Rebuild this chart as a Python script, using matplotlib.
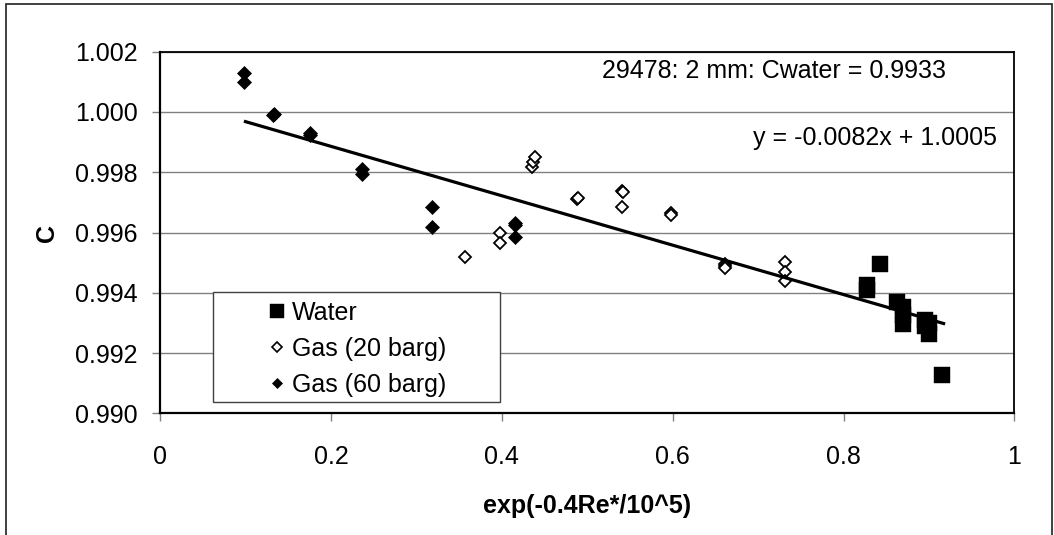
import matplotlib
matplotlib.use("Agg")
import matplotlib.pyplot as plt
from matplotlib.lines import Line2D
from matplotlib.patches import Rectangle

plt.rcParams['font.family'] = ['Liberation Sans', 'DejaVu Sans']

# ---- data ----
water_x = [0.827, 0.827, 0.843, 0.862, 0.870, 0.870, 0.870, 0.895, 0.895, 0.900, 0.900, 0.915]
water_y = [0.99425, 0.99408, 0.99497, 0.99369, 0.99353, 0.99325, 0.99298, 0.99311, 0.99289, 0.99300, 0.99264, 0.99128]

gas20_x = [0.3575, 0.398, 0.398, 0.435, 0.437, 0.439, 0.488, 0.489, 0.541, 0.542, 0.541,
           0.598, 0.598, 0.661, 0.661, 0.661, 0.732, 0.732, 0.732]
gas20_y = [0.99519, 0.99600, 0.99565, 0.99819, 0.99833, 0.99849, 0.99712, 0.99716, 0.99738, 0.99733, 0.99683,
           0.99666, 0.99659, 0.99497, 0.99490, 0.99482, 0.99501, 0.99468, 0.99438]

gas60_x = [0.098, 0.098, 0.132, 0.133, 0.175, 0.176, 0.236, 0.236, 0.318, 0.318, 0.416, 0.416, 0.416]
gas60_y = [1.00128, 1.00098, 0.99989, 0.99992, 0.99925, 0.99930, 0.99811, 0.99793, 0.99683, 0.99617,
           0.99633, 0.99625, 0.99586]

trend_x = [0.100, 0.917]
trend_y = [0.99968, 0.99298]

series_labels = ['Water', 'Gas (20 barg)', 'Gas (60 barg)']
x_ticks = [0, 0.2, 0.4, 0.6, 0.8, 1]
x_tick_labels = ['0', '0.2', '0.4', '0.6', '0.8', '1']
y_ticks = [0.990, 0.992, 0.994, 0.996, 0.998, 1.000, 1.002]
y_tick_labels = ['0.990', '0.992', '0.994', '0.996', '0.998', '1.000', '1.002']
note_text = '29478: 2 mm: Cwater = 0.9933'
eq_text = 'y = -0.0082x + 1.0005'
x_label = 'exp(-0.4Re*/10^5)'
y_label = 'C'

W, H = 1054, 535
fig = plt.figure(figsize=(W / 100, H / 100), dpi=100)
ax = fig.add_axes([160 / W, 1 - 413.3 / H, (1014.5 - 160) / W, (413.3 - 51.7) / H])

ax.set_xlim(0, 1)
ax.set_ylim(0.990, 1.002)
ax.set_xticks(x_ticks)
ax.set_xticklabels(x_tick_labels)
ax.set_yticks(y_ticks)
ax.set_yticklabels(y_tick_labels)

ax.set_axisbelow(True)
ax.yaxis.grid(True, color='#808080', linewidth=1.0)
ax.xaxis.grid(False)

for s in ['left', 'bottom']:
    ax.spines[s].set_linewidth(1.6)
for s in ['top', 'right']:
    ax.spines[s].set_linewidth(1.3)
for s in ax.spines.values():
    s.set_color('black')

ax.tick_params(axis='both', direction='out', length=6, width=1.0, color='#808080',
               labelsize=18, labelcolor='black')
ax.tick_params(axis='y', pad=10)
ax.tick_params(axis='x', pad=16.5)

# data marks
ax.plot(water_x, water_y, linestyle='none', marker='s', markersize=11,
        markerfacecolor='black', markeredgecolor='black', markeredgewidth=0.3, zorder=3)
ax.plot(gas20_x, gas20_y, linestyle='none', marker='D', markersize=6.3,
        markerfacecolor='white', markeredgecolor='black', markeredgewidth=1.3, zorder=3)
ax.plot(gas60_x, gas60_y, linestyle='none', marker='D', markersize=6.8,
        markerfacecolor='black', markeredgecolor='black', markeredgewidth=0.5, zorder=3)
ax.plot(trend_x, trend_y, color='black', linewidth=2.3, zorder=4)

# annotations
ax.text((601.7 - 160) / 854.5, 1 - (78 - 51.7) / 361.6, note_text, transform=ax.transAxes,
        fontsize=18, ha='left', va='baseline')
ax.text((997 - 160) / 854.5, 1 - (145 - 51.7) / 361.6, eq_text, transform=ax.transAxes,
        fontsize=18, ha='right', va='baseline')

# axis labels
ax.set_xlabel(x_label, fontsize=18, fontweight='bold')
ax.xaxis.set_label_coords(0.5, -(494 - 413.3) / 361.6)
ax.set_ylabel(y_label, fontsize=18, fontweight='bold', va='center')
ax.yaxis.set_label_coords((46.7 - 160) / 854.5, 0.5)

# legend: white box + frameless legend inside
lx0, lx1, ly0, ly1 = 212.7, 500, 292.3, 401.7
box = Rectangle(((lx0 - 160) / 854.5, 1 - (ly1 - 51.7) / 361.6),
                (lx1 - lx0) / 854.5, (ly1 - ly0) / 361.6,
                transform=ax.transAxes, facecolor='white', edgecolor='#404040',
                linewidth=1.0, zorder=5)
ax.add_patch(box)
handles = [
    Line2D([], [], linestyle='none', marker='s', markersize=10.5, markerfacecolor='black',
           markeredgecolor='black', markeredgewidth=0.3),
    Line2D([], [], linestyle='none', marker='D', markersize=5.3, markerfacecolor='white',
           markeredgecolor='black', markeredgewidth=1.2),
    Line2D([], [], linestyle='none', marker='D', markersize=5.6, markerfacecolor='black',
           markeredgecolor='black', markeredgewidth=0.5),
]
leg = ax.legend(handles, series_labels, loc='upper left', frameon=False, fontsize=18,
                bbox_to_anchor=((264.5 - 160) / 854.5, 1 - (300.5 - 51.7) / 361.6),
                borderpad=0, borderaxespad=0, handlelength=1.0, handletextpad=0.1,
                labelspacing=0.48, numpoints=1)
leg.set_zorder(6)

# outer border of the chart
fig.patches.append(Rectangle((6 / W, -0.05), (1052 - 6) / W, 1.05 - 4 / H,
                             transform=fig.transFigure, fill=False, edgecolor='#202020',
                             linewidth=1.2))

fig.savefig('out.png', dpi=100)
